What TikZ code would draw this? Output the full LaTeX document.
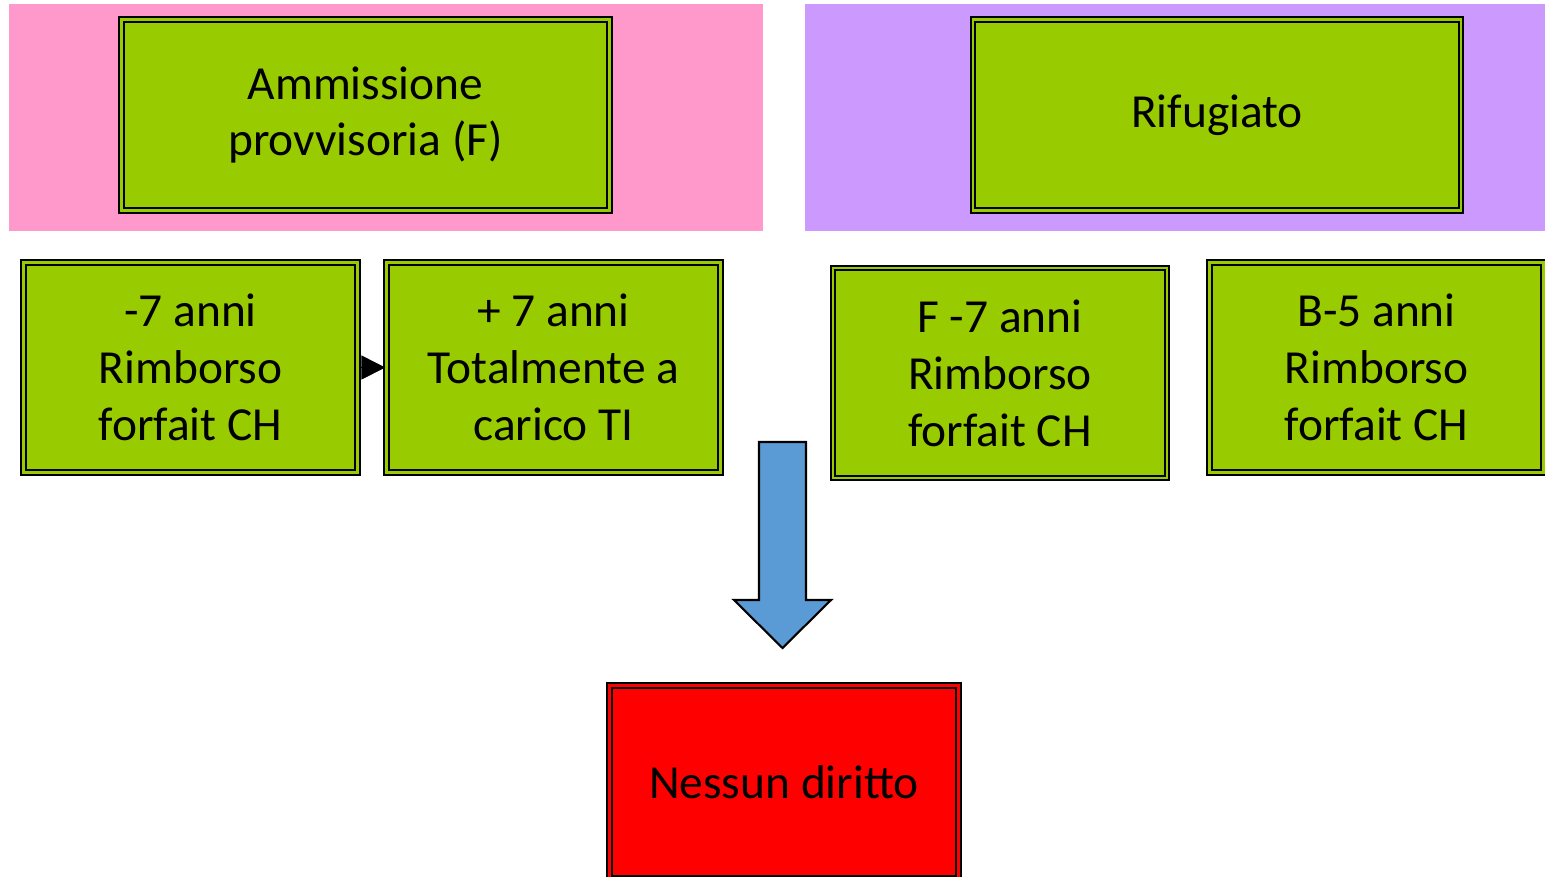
\documentclass[tikz,border=0pt]{standalone}
\usepackage{fontspec}
\setmainfont{Carlito}
\usetikzlibrary{arrows.meta}
\definecolor{verde}{HTML}{99CC00}
\definecolor{rosa}{HTML}{FF99CC}
\definecolor{viola}{HTML}{CC99FF}
\definecolor{blu}{HTML}{5B9BD5}
\tikzset{
  casella/.style = {draw, fill=verde, line width=1.3pt, double=verde, double distance=1.3pt,
    align=center, font=\fontsize{27}{32.4}\selectfont, inner sep=0pt},
  grande/.style = {casella, minimum width=9.76cm, minimum height=3.82cm},
  piccola/.style = {casella, minimum width=6.68cm, minimum height=4.2cm}
}

\begin{document}
\begin{tikzpicture}[x=0.02cm, y=-0.02cm]
        \useasboundingbox (0,0) rectangle (1545,876);
        \clip (0,0) rectangle (1545,876);
        % sfondi
        \fill[rosa] (9,4) rectangle (763,231);
        \fill[viola] (805,4) rectangle (1545,231);
        % riquadri
        \node[grande] (ammissione) at (365.5,115) {Ammissione\\provvisoria (F)};
        \node[grande] (rifugiato) at (1217,115) {Rifugiato};
        \node[piccola] (meno) at (190.5,367.5) {-7 anni\\Rimborso\\forfait CH};
        \node[piccola] (piu) at (553.5,367.5) {+ 7 anni\\Totalmente a\\carico TI};
        \node[piccola] (fmeno) at (1000,373) {F -7 anni\\Rimborso\\forfait CH};
        \node[piccola] (bmeno) at (1376.5,367.5) {B-5 anni\\Rimborso\\forfait CH};
        \node[casella, fill=red, double=red, minimum width=6.98cm, minimum height=3.86cm] (nessuno) at (784,782) {Nessun diritto};
        \draw[-{Triangle[length=0.48cm, width=0.48cm]}] (meno) -- (piu);
        % freccia blu
        \draw[fill=blu, line width=1.2pt, line join=miter]
            (759,442) -- (806,442) -- (806,600) -- (831,600) -- (782.5,648)
            -- (734,600) -- (759,600) -- cycle;
    \end{tikzpicture}
\end{document}
